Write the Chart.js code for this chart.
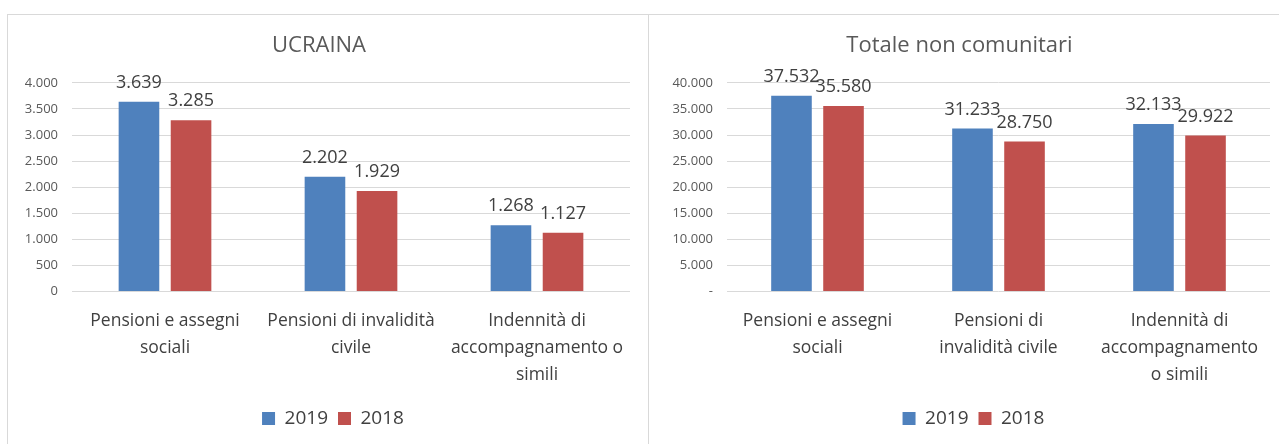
<!DOCTYPE html>
<html>
<head>
<meta charset="utf-8">
<script src="https://cdn.jsdelivr.net/npm/chart.js@4/dist/chart.umd.min.js"></script>
<style>
  body { margin: 0; background: #fff; width: 1279px; height: 444px; overflow: hidden; position: relative; }
  .frame { position: absolute; border: 1px solid #d9d9d9; box-sizing: border-box; }
  canvas { position: absolute; }
</style>
</head>
<body>
<div class="frame" style="left:7px; top:14px; width:642px; height:440px;"></div>
<div class="frame" style="left:648px; top:14px; width:640px; height:440px;"></div>
<canvas id="ucrainaChart" width="640" height="429" style="left:8px; top:15px;"></canvas>
<canvas id="totaleChart" width="630" height="429" style="left:649px; top:15px;"></canvas>
<script>
const seriesNames = ['2019', '2018'];
const seriesColors = ['#4f81bd', '#c0504d'];

const ucrainaCategories = [
    ['Pensioni e assegni', 'sociali'],
    ['Pensioni di invalidità', 'civile'],
    ['Indennità di', 'accompagnamento o', 'simili']
];
const ucraina2019 = [3639, 2202, 1268];
const ucraina2018 = [3285, 1929, 1127];
const ucrainaTicks = [0, 500, 1000, 1500, 2000, 2500, 3000, 3500, 4000];

const totaleCategories = [
    ['Pensioni e assegni', 'sociali'],
    ['Pensioni di', 'invalidità civile'],
    ['Indennità di', 'accompagnamento', 'o simili']
];
const totale2019 = [37532, 31233, 32133];
const totale2018 = [35580, 28750, 29922];
const totaleTicks = [0, 5000, 10000, 15000, 20000, 25000, 30000, 35000, 40000];

const FONT = '"Open Sans", "Noto Sans", sans-serif';

function fmt(v) {
    return String(v).replace(/\B(?=(\d{3})+(?!\d))/g, '.');
}

// etichette sopra le barre
const valueLabels = {
    id: 'valueLabels',
    afterDatasetsDraw(chart) {
        const ctx = chart.ctx;
        ctx.save();
        ctx.font = '18px ' + FONT;
        ctx.fillStyle = '#404040';
        ctx.textAlign = 'center';
        ctx.textBaseline = 'middle';
        chart.data.datasets.forEach((ds, i) => {
            chart.getDatasetMeta(i).data.forEach((bar, j) => {
                ctx.fillText(fmt(ds.data[j]), bar.x, bar.y - 19);
            });
        });
        ctx.restore();
    }
};

// legenda un po' più a destra, come nell'originale
const legendShift = {
    id: 'legendShift',
    afterLayout(chart) {
        chart.legend.left += 14;
        chart.legend.right += 14;
    }
};

function makeChart(id, title, labels, data2019, data2018, ticks, zeroLabel, axisWidth, padRight, catPct) {
    const ctx = document.getElementById(id).getContext('2d');
    return new Chart(ctx, {
        type: 'bar',
        data: {
            labels: labels,
            datasets: [{
                label: seriesNames[0],
                data: data2019,
                backgroundColor: seriesColors[0],
                categoryPercentage: catPct,
                barPercentage: 0.78
            }, {
                label: seriesNames[1],
                data: data2018,
                backgroundColor: seriesColors[1],
                categoryPercentage: catPct,
                barPercentage: 0.78
            }]
        },
        options: {
            responsive: false,
            animation: false,
            layout: { padding: { top: 0, right: padRight, bottom: 6, left: 0 } },
            plugins: {
                title: {
                    display: true,
                    text: title,
                    color: '#595959',
                    font: { family: FONT, size: 22, weight: 'normal', lineHeight: 1.2 },
                    padding: { top: 18, bottom: 23.5 }
                },
                legend: {
                    position: 'bottom',
                    labels: {
                        color: '#404040',
                        font: { family: FONT, size: 19 },
                        boxWidth: 13,
                        boxHeight: 13,
                        padding: 10
                    }
                },
                tooltip: { enabled: false }
            },
            scales: {
                x: {
                    grid: { display: false, drawTicks: false },
                    border: { display: false },
                    ticks: {
                        color: '#404040',
                        font: { family: FONT, size: 17.5, lineHeight: 1.54 },
                        padding: 16,
                        maxRotation: 0,
                        autoSkip: false
                    },
                    afterFit: s => { s.height = 107.5; }
                },
                y: {
                    min: 0,
                    max: ticks[ticks.length - 1],
                    grid: { color: '#d9d9d9', drawTicks: false },
                    border: { display: false },
                    afterBuildTicks: s => { s.ticks = ticks.map(v => ({ value: v })); },
                    ticks: {
                        color: '#595959',
                        font: { family: FONT, size: 13 },
                        padding: 14,
                        callback: v => v === 0 ? zeroLabel : fmt(v)
                    },
                    afterFit: s => { s.width = axisWidth; }
                }
            }
        },
        plugins: [valueLabels, legendShift]
    });
}

makeChart('ucrainaChart', 'UCRAINA', ucrainaCategories, ucraina2019, ucraina2018, ucrainaTicks, '0', 64, 18, 0.56);
makeChart('totaleChart', 'Totale non comunitari', totaleCategories, totale2019, totale2018, totaleTicks, '-', 78, 9, 0.575);
</script>
</body>
</html>
